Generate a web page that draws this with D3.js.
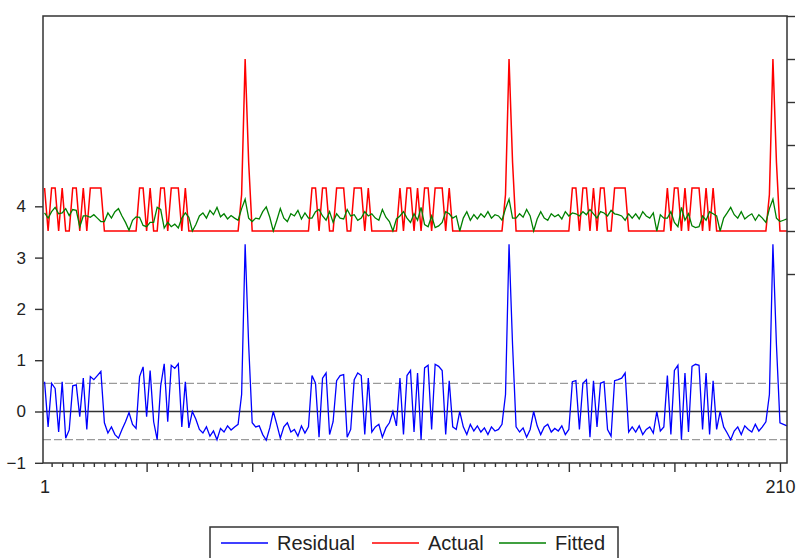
<!DOCTYPE html>
<html>
<head>
<meta charset="utf-8">
<script src="https://cdn.jsdelivr.net/npm/d3@7"></script>
<style>
  html, body { margin: 0; padding: 0; background: #fff; }
  svg text { font-family: "Liberation Sans", Arial, sans-serif; fill: #222; }
</style>
</head>
<body>
<div id="chart"></div>
<script>
// observations 1..212 (tick labels show 1 and 210)
var actual = [
  2,1,2,2,1,2,1,1,2,2,                       // 1-10
  1,2,1,2,2,2,2,1,1,1,                       // 11-20
  1,1,1,1,1,1,1,                             // 21-27
  2,2,1,2,1,1,2,2,1,2,2,2,1,2,1,1,1,         // 28-44
  1,1,1,1,1,1,1,1,1,1,1,1,                   // 45-56
  1.85,5.0,2.6,                              // 57-59
  1,1,1,1,1,1,1,1,1,1,1,1,1,1,1,1,1,         // 60-76
  2,2,1,2,2,1,1,2,2,2,1,1,2,2,2,1,2,         // 77-93
  1,1,1,1,1,1,1,1,                           // 94-101
  2,1,2,2,1,2,1,2,2,1,2,2,2,1,2,1,           // 102-117
  1,1,1,1,1,1,1,1,1,1,1,1,1,1,               // 118-131
  1.85,5.0,2.6,                              // 132-134
  1,1,1,1,1,1,1,1,1,1,1,1,1,1,1,1,           // 135-150
  2,2,1,2,2,1,2,1,2,2,1,1,2,2,2,2,1,         // 151-167
  1,1,1,1,1,1,1,1,1,1,                       // 168-177
  2,1,2,2,1,2,1,2,2,2,1,2,1,2,               // 178-191
  1,1,1,1,1,1,1,1,1,1,1,1,1,1,1,             // 192-206
  1.85,5.0,2.6,                              // 207-209
  1,1,1                                      // 210-212
];

var fitted = [
  1.42,1.30,1.45,1.55,1.40,1.42,1.52,1.36,1.50,1.48,
  1.10,1.35,1.35,1.32,1.38,1.30,1.22,1.22,1.42,1.30,
  1.45,1.52,1.35,1.20,1.02,1.25,1.33,
  1.32,1.13,1.10,1.20,1.20,1.55,1.50,1.07,1.20,1.10,1.16,1.07,1.30,1.42,1.32,1.00,1.15,
  1.35,1.42,1.30,1.48,1.38,1.55,1.33,1.40,1.28,1.36,1.30,1.25,
  1.52,1.74,1.30,
  1.22,1.30,1.28,1.45,1.56,1.32,1.00,1.25,1.52,1.30,1.22,1.40,1.35,1.48,1.28,1.42,1.30,
  1.30,1.45,1.50,1.35,1.25,1.45,1.20,1.40,1.30,1.28,1.50,1.35,1.38,1.25,1.30,1.45,1.35,
  1.40,1.30,1.25,1.50,1.32,1.22,1.00,1.28,
  1.35,1.45,1.30,1.20,1.40,1.25,1.55,1.15,1.10,1.35,1.08,1.12,1.20,1.45,1.40,1.30,
  1.35,1.00,1.30,1.45,1.25,1.38,1.28,1.40,1.32,1.45,1.30,1.38,1.35,1.25,
  1.52,1.74,1.30,
  1.30,1.40,1.32,1.50,1.35,1.00,1.28,1.45,1.30,1.25,1.40,1.33,1.38,1.28,1.45,1.35,
  1.42,1.40,1.35,1.45,1.38,1.50,1.40,1.30,1.45,1.42,1.35,1.48,1.40,1.38,1.35,1.25,1.40,
  1.30,1.40,1.28,1.45,1.35,1.30,1.42,1.00,1.38,1.30,
  1.30,1.45,1.20,1.10,1.55,1.25,1.40,1.12,1.08,1.10,1.35,1.25,1.45,1.40,
  1.35,1.00,1.30,1.42,1.55,1.38,1.30,1.45,1.28,1.35,1.40,1.25,1.38,1.30,1.20,
  1.52,1.74,1.30,
  1.22,1.25,1.28
];

// residual is actual minus fitted, as in the regression output
var residual = actual.map(function (a, i) { return +(a - fitted[i]).toFixed(2); });

var nObs = 212;
var seBand = 0.55;                       // +/- one S.E. of regression
var leftTicks = [-1, 0, 1, 2, 3, 4];
var rightTicks = [0, 1, 2, 3, 4, 5, 6];
var xLabels = [1, 210];
var seriesNames = ["Residual", "Actual", "Fitted"];
var seriesColors = ["#0000ff", "#ff0000", "#008000"];

var width = 802, height = 558;
var margin = { top: 16, left: 43, right: 15, bottom: 95 };
var plotRight = width - margin.right, plotBottom = height - margin.bottom;

var svg = d3.select("#chart").append("svg")
  .attr("width", width)
  .attr("height", height);

var x = d3.scaleLinear().domain([0.55, nObs]).range([margin.left, plotRight]);
var yRes = d3.scaleLinear().domain([-1.004, 7.71]).range([plotBottom, margin.top]);
var yAct = d3.scaleLinear().domain([-4.395, 6]).range([plotBottom, margin.top]);

// reference lines
svg.append("g")
  .selectAll("line")
  .data([seBand, -seBand])
  .join("line")
  .attr("x1", margin.left).attr("x2", plotRight)
  .attr("y1", d => yRes(d)).attr("y2", d => yRes(d))
  .attr("stroke", "#9a9a9a")
  .attr("stroke-width", 1.2)
  .attr("stroke-dasharray", "8,3");

svg.append("line")
  .attr("x1", margin.left).attr("x2", plotRight)
  .attr("y1", yRes(0)).attr("y2", yRes(0))
  .attr("stroke", "#333")
  .attr("stroke-width", 1.4);

// series
var lineRes = d3.line().x((d, i) => x(i + 1)).y(d => yRes(d));
var lineAct = d3.line().x((d, i) => x(i + 1)).y(d => yAct(d));

svg.append("path").datum(residual)
  .attr("d", lineRes).attr("fill", "none")
  .attr("stroke", seriesColors[0]).attr("stroke-width", 1.3);

svg.append("path").datum(actual)
  .attr("d", lineAct).attr("fill", "none")
  .attr("stroke", seriesColors[1]).attr("stroke-width", 1.5);

svg.append("path").datum(fitted)
  .attr("d", lineAct).attr("fill", "none")
  .attr("stroke", seriesColors[2]).attr("stroke-width", 1.3);

// frame
svg.append("rect")
  .attr("x", margin.left).attr("y", margin.top)
  .attr("width", plotRight - margin.left)
  .attr("height", plotBottom - margin.top)
  .attr("fill", "none")
  .attr("stroke", "#333")
  .attr("stroke-width", 1.5);

// axes
function styleAxis(g) {
  g.select(".domain").remove();
  g.selectAll(".tick line").attr("stroke", "#333").attr("stroke-width", 1.4);
}

svg.append("g")
  .attr("transform", `translate(${margin.left},0)`)
  .call(d3.axisLeft(yRes).tickValues(leftTicks).tickSize(8).tickPadding(9).tickFormat(d3.format("d")))
  .call(styleAxis)
  .selectAll("text").attr("font-size", 17).attr("font-family", null);

svg.append("g")
  .attr("transform", `translate(${plotRight},0)`)
  .call(d3.axisRight(yAct).tickValues(rightTicks).tickSize(8).tickFormat(""))
  .call(styleAxis);

var minor = d3.range(3, 211, 3).filter(d => d % 30 !== 0);
var major = d3.range(30, 211, 30);

svg.append("g")
  .attr("transform", `translate(0,${plotBottom})`)
  .call(d3.axisBottom(x).tickValues(minor).tickSize(4).tickFormat(""))
  .call(styleAxis);

svg.append("g")
  .attr("transform", `translate(0,${plotBottom})`)
  .call(d3.axisBottom(x).tickValues(major).tickSize(9).tickFormat(""))
  .call(styleAxis);

svg.append("g")
  .attr("transform", `translate(0,${plotBottom})`)
  .call(d3.axisBottom(x).tickValues(xLabels).tickSize(0).tickPadding(17).tickFormat(d3.format("d")))
  .call(styleAxis)
  .selectAll("text").attr("font-size", 18).attr("font-family", null);

// legend
var legend = svg.append("g");
legend.append("rect")
  .attr("x", 210).attr("y", 527)
  .attr("width", 408).attr("height", 40)
  .attr("fill", "#fff")
  .attr("stroke", "#333")
  .attr("stroke-width", 1.5);

var legendX = [221, 372, 499];
seriesNames.forEach(function (name, i) {
  legend.append("line")
    .attr("x1", legendX[i]).attr("x2", legendX[i] + 47)
    .attr("y1", 543).attr("y2", 543)
    .attr("stroke", seriesColors[i]).attr("stroke-width", 1.3);
  legend.append("text")
    .attr("x", legendX[i] + 56).attr("y", 550)
    .attr("font-size", 20)
    .text(name);
});
</script>
</body>
</html>
